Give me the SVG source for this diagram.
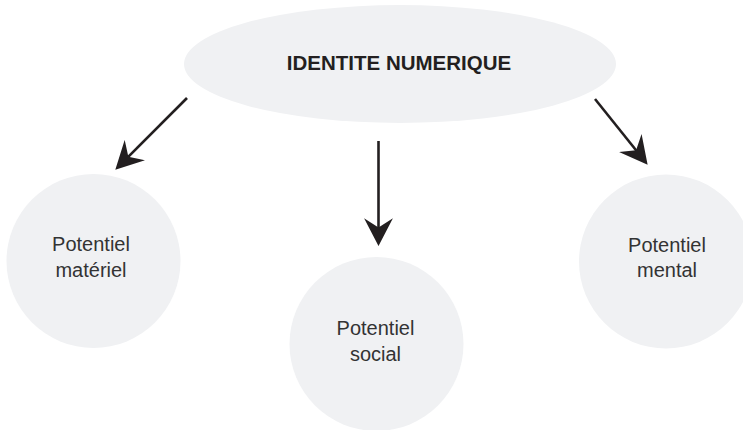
<svg xmlns="http://www.w3.org/2000/svg" width="743" height="430" viewBox="0 0 743 430">
<defs>
<style>
.node{fill:#f0f1f3;}
.lbl{font-family:"Liberation Sans",Arial,sans-serif;font-size:20px;fill:#333;text-anchor:middle;}
.title{font-family:"Liberation Sans",Arial,sans-serif;font-size:20.5px;font-weight:bold;fill:#231f20;text-anchor:middle;}
.conn{stroke:#231f20;stroke-width:2.6;fill:none;marker-end:url(#ah);}
</style>
<marker id="ah" markerUnits="userSpaceOnUse" markerWidth="30" markerHeight="30" viewBox="-24 -13 26 26" refX="-6" refY="0" orient="auto">
<path d="M0,0 L-24,-12.5 L-16,0 L-24,12.5 Z" fill="#231f20"/>
</marker>
</defs>
<rect width="743" height="430" fill="#fff"/>
<g id="identite">
<ellipse class="node" cx="400" cy="64" rx="216" ry="59"/>
<text class="title" x="399" y="70">IDENTITE NUMERIQUE</text>
</g>
<g id="materiel">
<circle class="node" cx="93.5" cy="261" r="87"/>
<text class="lbl" x="91" y="251">Potentiel</text>
<text class="lbl" x="91" y="277">matériel</text>
</g>
<g id="social">
<circle class="node" cx="376.5" cy="344" r="87"/>
<text class="lbl" x="375.5" y="335">Potentiel</text>
<text class="lbl" x="375.5" y="361">social</text>
</g>
<g id="mental">
<circle class="node" cx="666" cy="261.5" r="87"/>
<text class="lbl" x="667" y="252">Potentiel</text>
<text class="lbl" x="667" y="277">mental</text>
</g>
<g id="connectors">
<line class="conn" x1="187" y1="98" x2="120.2" y2="164.8"/>
<line class="conn" x1="378.5" y1="141" x2="378.5" y2="239"/>
<line class="conn" x1="595" y1="99" x2="643.3" y2="159.3"/>
</g>
</svg>
